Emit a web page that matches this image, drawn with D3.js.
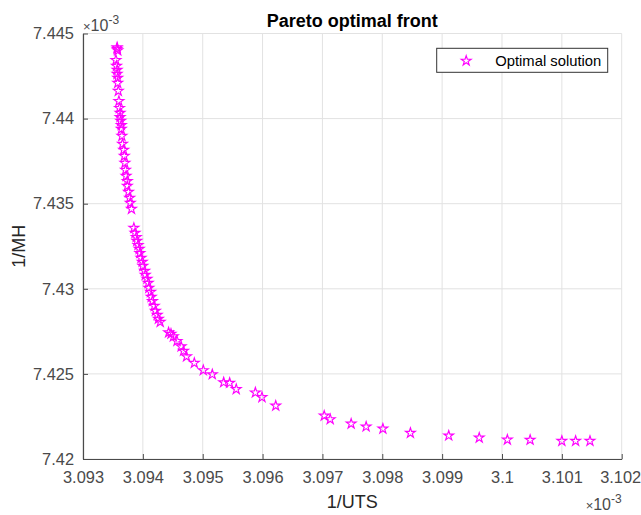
<!DOCTYPE html>
<meta charset="utf-8">
<html>
<head>
<script src="https://d3js.org/d3.v7.min.js"></script>
<style>
body { margin: 0; background: #fff; }
svg { display: block; font-family: "Liberation Sans", Arial, sans-serif; }
.grid line { stroke: #e2e2e2; stroke-width: 1; }
.axis path, .axis line { stroke: #4a4a4a; }
.axis text { fill: #4a4a4a; font-size: 16.4px; }
</style>
</head>
<body>
<script>
// values shown in units of 1e-3 (the "x10^-3" labels on the axes)
var uts = [3.09357, 3.09357, 3.09358, 3.09355, 3.09356, 3.09357, 3.09357, 3.09358, 3.09358, 3.09359,
           3.09360, 3.09361, 3.09362, 3.09362, 3.09363, 3.09364, 3.09364, 3.09365, 3.09366, 3.09368,
           3.09369, 3.09370, 3.09371, 3.09372, 3.09374, 3.09374, 3.09376, 3.09378, 3.09379, 3.09381,
           3.09385, 3.09387, 3.09389, 3.09390, 3.09392, 3.09394, 3.09395, 3.09397, 3.09399, 3.09400,
           3.09403, 3.09404, 3.09407, 3.09409, 3.09410, 3.09413, 3.09414, 3.09416, 3.09419, 3.09421,
           3.09424, 3.09426, 3.09429, 3.09443, 3.09447, 3.09451, 3.09457, 3.09464, 3.09468, 3.09473,
           3.09486, 3.09501, 3.09516, 3.09535, 3.09545, 3.09556, 3.09588, 3.09599, 3.09622,
           3.09703, 3.09713, 3.09748, 3.09773, 3.09801, 3.09847, 3.09911, 3.09962, 3.10009, 3.10047,
           3.10100, 3.10123, 3.10147];
var mh  = [7.44418, 7.44409, 7.44400, 7.44344, 7.44309, 7.44286, 7.44262, 7.44239, 7.44209, 7.44162,
           7.44103, 7.44062, 7.44033, 7.44009, 7.43986, 7.43962, 7.43939, 7.43898, 7.43851, 7.43816,
           7.43780, 7.43739, 7.43698, 7.43663, 7.43633, 7.43604, 7.43569, 7.43534, 7.43504, 7.43469,
           7.43357, 7.43328, 7.43304, 7.43281, 7.43257, 7.43234, 7.43210, 7.43181, 7.43158, 7.43134,
           7.43105, 7.43081, 7.43058, 7.43034, 7.43005, 7.42981, 7.42952, 7.42928, 7.42899, 7.42870,
           7.42846, 7.42823, 7.42805, 7.42743, 7.42735, 7.42720, 7.42693, 7.42661, 7.42635, 7.42602,
           7.42564, 7.42521, 7.42497, 7.42450, 7.42447, 7.42410, 7.42390, 7.42363, 7.42313,
           7.42254, 7.42233, 7.42207, 7.42190, 7.42178, 7.42153, 7.42137, 7.42125, 7.42113, 7.42112,
           7.42106, 7.42106, 7.42106];

var xTicks = [3.093, 3.094, 3.095, 3.096, 3.097, 3.098, 3.099, 3.100, 3.101, 3.102];
var yTicks = [7.420, 7.425, 7.430, 7.435, 7.440, 7.445];

var W = 641, H = 515;
var margin = {top: 33.5, right: 19.3, bottom: 56, left: 83};
var w = W - margin.left - margin.right,
    h = H - margin.top - margin.bottom;

var fmt = function(d) { return String(+d.toFixed(3)); };

var x = d3.scaleLinear().domain([3.093, 3.102]).range([0, w]);
var y = d3.scaleLinear().domain([7.420, 7.445]).range([h, 0]);

var svg = d3.select("body").append("svg")
    .attr("width", W)
    .attr("height", H);

var g = svg.append("g").attr("transform", "translate(" + margin.left + "," + margin.top + ")");

// grid (also makes the light top/right box)
g.append("g").attr("class", "grid")
  .selectAll("line.v").data(xTicks).enter().append("line")
    .attr("x1", x).attr("x2", x).attr("y1", 0).attr("y2", h);
g.append("g").attr("class", "grid")
  .selectAll("line.h").data(yTicks).enter().append("line")
    .attr("y1", y).attr("y2", y).attr("x1", 0).attr("x2", w);

// axes, ticks pointing inwards like matlab
var xAxis = g.append("g").attr("class", "axis")
    .attr("transform", "translate(0," + h + ")")
    .call(d3.axisBottom(x).tickValues(xTicks).tickFormat(fmt).tickSizeInner(-5).tickSizeOuter(0).tickPadding(12));
var yAxis = g.append("g").attr("class", "axis")
    .call(d3.axisLeft(y).tickValues(yTicks).tickFormat(fmt).tickSizeInner(-5).tickSizeOuter(0).tickPadding(9));
g.selectAll(".axis path").attr("stroke-width", 1.2);
g.selectAll(".axis text").attr("font-family", "Liberation Sans, Arial, sans-serif");
// last x label sits right at the window edge, nudge it in a bit
xAxis.selectAll(".tick:last-of-type text").attr("dx", "-1.5");

// points
var star = d3.symbol().type(d3.symbolStar).size(30);
g.selectAll("path.pt").data(uts).enter().append("path")
    .attr("class", "pt")
    .attr("d", star)
    .attr("transform", function(d, i) { return "translate(" + x(d) + "," + y(mh[i]) + ")"; })
    .attr("fill", "none")
    .attr("stroke", "#ff00ff")
    .attr("stroke-width", 1.15);

// title and labels
svg.append("text")
    .attr("x", margin.left + w / 2).attr("y", 27)
    .attr("text-anchor", "middle")
    .attr("font-size", "18px").attr("font-weight", "bold").attr("fill", "#000")
    .text("Pareto optimal front");

svg.append("text")
    .attr("x", margin.left + w / 2).attr("y", 508)
    .attr("text-anchor", "middle")
    .attr("font-size", "18px").attr("fill", "#262626")
    .text("1/UTS");

svg.append("text")
    .attr("transform", "translate(25," + (margin.top + h / 2) + ") rotate(-90)")
    .attr("text-anchor", "middle")
    .attr("font-size", "18px").attr("fill", "#262626")
    .text("1/MH");

// exponent markers
function expLabel(px, py, anchor) {
  var t = svg.append("text")
      .attr("x", px).attr("y", py)
      .attr("text-anchor", anchor)
      .attr("fill", "#4a4a4a").attr("font-size", "16px");
  t.append("tspan").attr("font-size", "13px").text("\u00d7");
  t.append("tspan").text("10");
  t.append("tspan").attr("font-size", "12px").attr("dy", -7).text("-3");
}
expLabel(83, 31, "start");
expLabel(margin.left + w, 510, "end");

// legend
var lg = svg.append("g").attr("transform", "translate(436.7,48.3)");
lg.append("rect")
    .attr("width", 171).attr("height", 24)
    .attr("fill", "#fff").attr("stroke", "#333").attr("stroke-width", 1);
lg.append("path")
    .attr("d", star)
    .attr("transform", "translate(29.5,12.5)")
    .attr("fill", "none").attr("stroke", "#ff00ff").attr("stroke-width", 1.15);
lg.append("text")
    .attr("x", 58.5).attr("y", 17.5)
    .attr("font-size", "14.8px").attr("fill", "#000")
    .text("Optimal solution");
</script>
</body>
</html>
